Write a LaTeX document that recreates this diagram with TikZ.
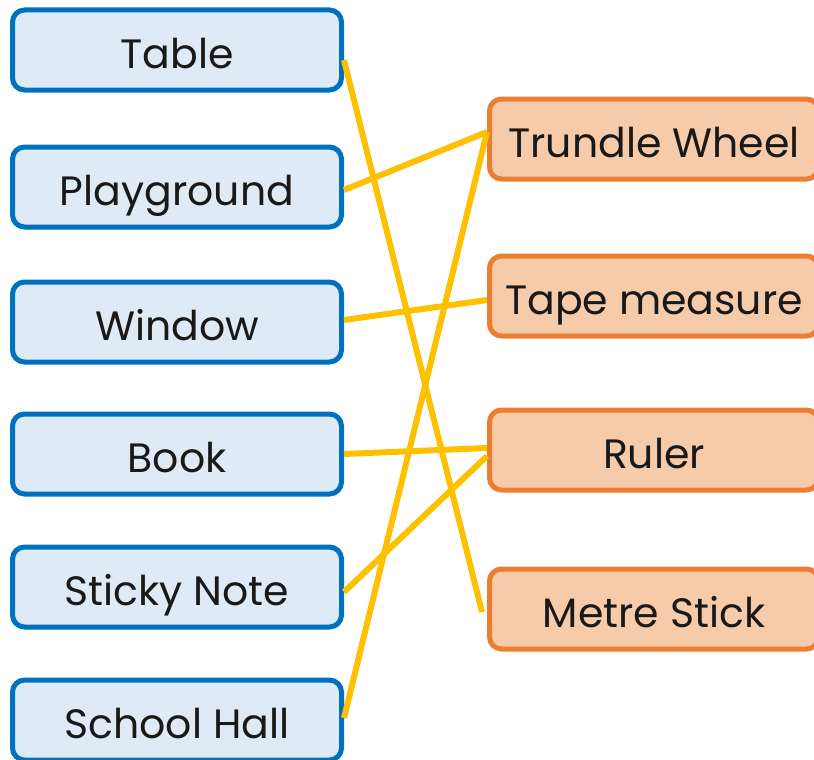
\documentclass[tikz,border=0pt]{standalone}
\usepackage{fontspec}
\setmainfont{Poppins}
\usepackage{tikz}
\usetikzlibrary{positioning,calc}
\usepackage{xcolor}
\definecolor{placeblue}{HTML}{0070C0}
\definecolor{placefill}{HTML}{DEEAF6}
\definecolor{toolorange}{HTML}{ED7D31}
\definecolor{toolfill}{HTML}{F6CBAA}
\definecolor{matchline}{HTML}{FFC000}

\begin{document}
\begin{tikzpicture}[
        x=1pt, y=-1pt,
        place/.style={rectangle, draw=placeblue, fill=placefill, line width=5pt, rounded corners=12pt,
            minimum width=329pt, minimum height=80pt, font=\fontsize{41}{44}\selectfont, text=black!90,
            text height=37pt, text depth=0pt},
        tool/.style={rectangle, draw=toolorange, fill=toolfill, line width=5pt, rounded corners=12pt,
            minimum width=329pt, minimum height=80pt, font=\fontsize{41}{44}\selectfont, text=black!90,
            text height=37pt, text depth=0pt},
        match/.style={draw=matchline, line width=6pt}
    ]
        \useasboundingbox (0,0) rectangle (814,760);

        % Places
        \node[place] (table) at (177,50) {Table};
        \node[place] (playground) at (177,187) {Playground};
        \node[place] (window) at (177,322) {Window};
        \node[place] (book) at (177,454) {Book};
        \node[place] (sticky) at (177,587) {Sticky Note};
        \node[place] (hall) at (177,720) {School Hall};

        % Measuring tools
        \node[tool] (trundle) at (654,139) {Trundle Wheel};
        \node[tool] (tape) at (654,296) {Tape measure};
        \node[tool] (ruler) at (654,450) {Ruler};
        \node[tool] (metre) at (654,609) {Metre Stick};

        % Matches
        \draw[match] ([yshift=-10pt]table.east) -- ([shift={(-5pt,-3pt)}]metre.west);
        \draw[match] ([yshift=-3pt]playground.east) -- ([yshift=7pt]trundle.west);
        \draw[match] ([yshift=2pt]window.east) -- ([yshift=-4pt]tape.west);
        \draw[match] (book.east) -- ([yshift=2pt]ruler.west);
        \draw[match] ([yshift=-5pt]sticky.east) -- ([yshift=-6pt]ruler.west);
        \draw[match] ([yshift=2pt]hall.east) -- ([yshift=7pt]trundle.west);
    \end{tikzpicture}
\end{document}
